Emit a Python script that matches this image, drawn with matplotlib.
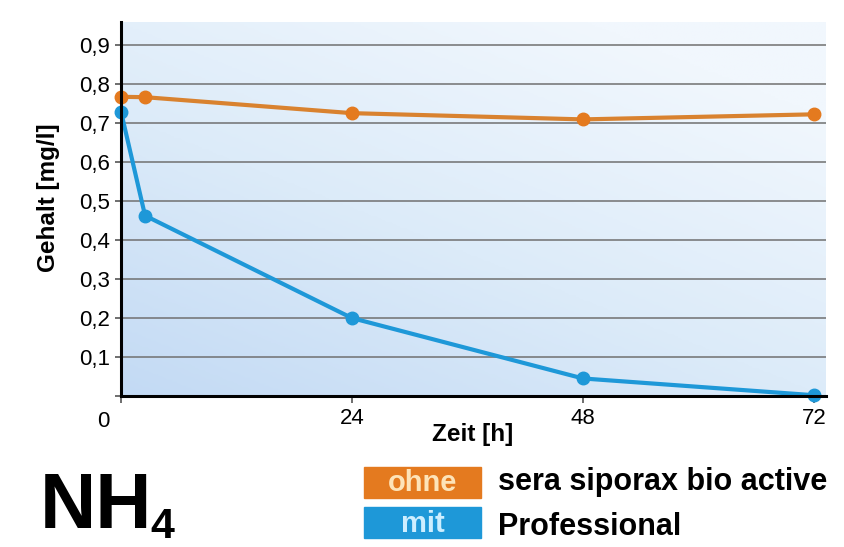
import matplotlib
matplotlib.use('Agg')
import matplotlib.pyplot as plt
import numpy as np
from matplotlib.colors import LinearSegmentedColormap
from matplotlib.patches import Rectangle

plt.rcParams['font.family'] = ['Liberation Sans', 'DejaVu Sans']

# --- Data: NH4 content over time ---
zeit = [0, 2.5, 24, 48, 72]
ohne = [0.768, 0.767, 0.726, 0.710, 0.723]   # without sera siporax
mit = [0.730, 0.463, 0.200, 0.045, 0.002]    # with sera siporax

y_ticks = [0.1, 0.2, 0.3, 0.4, 0.5, 0.6, 0.7, 0.8, 0.9]
y_labels = ['0,1', '0,2', '0,3', '0,4', '0,5', '0,6', '0,7', '0,8', '0,9']
x_ticks = [0, 24, 48, 72]
x_labels = ['', '24', '48', '72']

orange = '#e47a1f'
orange_line = '#d9822f'
blue = '#1e98d8'

W, H = 844, 547
fig = plt.figure(figsize=(8.44, 5.47), dpi=100)
ax = fig.add_axes([121 / W, 1 - 396 / H, 705 / W, 374 / H])

xmax = 73.25
ymax = 0.96
ax.set_xlim(0, xmax)
ax.set_ylim(0, ymax)

# gradient background, darker blue bottom-left, almost white top-right
gx, gy = np.meshgrid(np.linspace(0, 1, 200), np.linspace(0, 1, 200))
g = np.clip((gx * 0.6 + gy * 0.8) / 1.2, 0, 1)
cmap = LinearSegmentedColormap.from_list('bg', ['#c3daf4', '#dcebf9', '#f1f7fd'])
ax.imshow(g, extent=[0, xmax, 0, ymax], origin='lower', cmap=cmap,
          aspect='auto', zorder=0)

# grid
for yt in y_ticks:
    ax.axhline(yt, color='#707070', lw=1.1, zorder=1)

ax.plot(zeit, ohne, color=orange_line, lw=3, marker='o', ms=9,
        mfc=orange, mec=orange, zorder=3, clip_on=False)
ax.plot(zeit, mit, color=blue, lw=3, marker='o', ms=9,
        mfc=blue, mec=blue, zorder=3, clip_on=False)

ax.set_yticks([0] + y_ticks)
ax.set_yticklabels([''] + y_labels)
ax.set_xticks(x_ticks)
ax.set_xticklabels(x_labels)
ax.tick_params(axis='both', labelsize=16, color='#555555', width=1.2)
ax.tick_params(axis='y', length=4.5, pad=3.5)
ax.tick_params(axis='x', length=5, pad=4)

ax.text(-1.85, -0.038, '0', ha='center', va='top', fontsize=16,
        transform=ax.transData)

ax.spines['top'].set_visible(False)
ax.spines['right'].set_visible(False)
ax.spines['left'].set_linewidth(2.2)
ax.spines['bottom'].set_linewidth(2.2)
ax.spines['left'].set_zorder(4)
ax.spines['bottom'].set_zorder(4)

ax.set_ylabel('Gehalt [mg/l]', fontsize=17.5, fontweight='bold')
ax.yaxis.set_label_coords(-0.087, 0.53)
ax.text(0.499, -0.072, 'Zeit [h]', transform=ax.transAxes, ha='center',
        va='top', fontsize=17.5, fontweight='bold')

# NH4 title
fig.text(40 / W, 1 - 528 / H, 'NH', fontsize=56, fontweight='bold',
         ha='left', va='baseline')
fig.text(150 / W, 1 - 538 / H, '4', fontsize=31, fontweight='bold',
         ha='left', va='baseline')

# legend boxes
box_w = 117 / W
box_h = 31 / H
for (yb, col, txt, tcol, tbase, desc, dbase) in [
        (467, orange, 'ohne', '#fde3b8', 491, 'sera siporax bio active', 490),
        (507, blue, 'mit', '#cdeeff', 532, 'Professional', 535)]:
    y0 = 1 - (yb + 31) / H
    fig.patches.append(Rectangle((364 / W, y0), box_w, box_h,
                                 transform=fig.transFigure, color=col))
    fig.text(364 / W + box_w / 2, 1 - tbase / H, txt, fontsize=21,
             fontweight='bold', color=tcol, ha='center', va='baseline')
    fig.text(498 / W, 1 - dbase / H, desc, fontsize=22,
             fontweight='bold', color='black', ha='left', va='baseline')

plt.savefig('out.png', dpi=100)
